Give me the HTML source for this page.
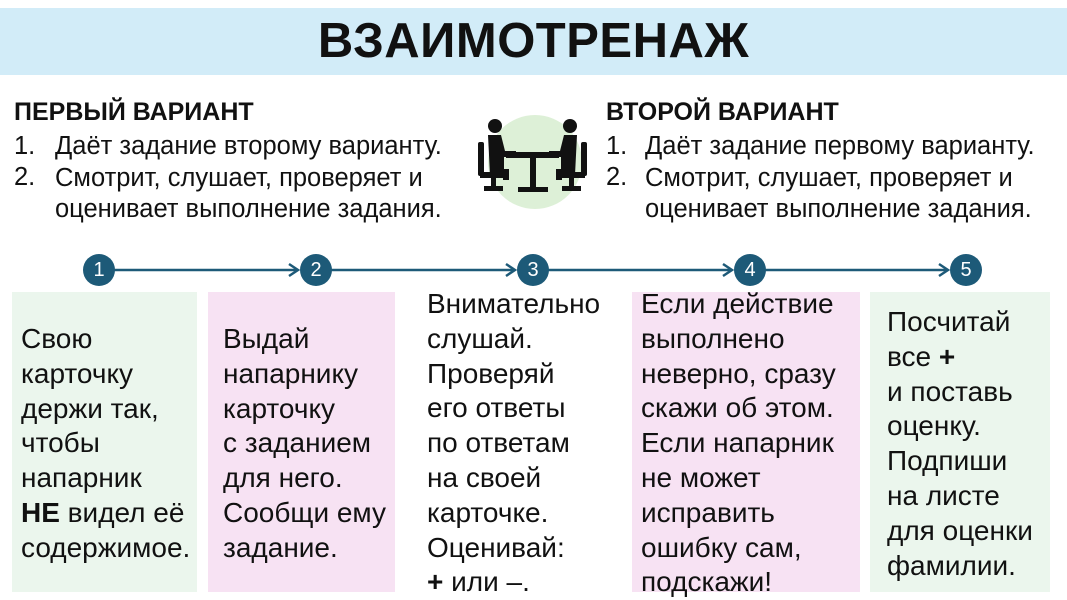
<!DOCTYPE html>
<html><head><meta charset="utf-8"><style>
body{margin:0;width:1067px;height:600px;background:#fff;position:relative;overflow:hidden;font-family:"Liberation Sans",Arial,sans-serif;color:#111}
.a{position:absolute}
.band{left:0;top:8px;width:1067px;height:67px;background:#d2ecf8}
.title{left:0;width:1067px;top:8px;height:67px;line-height:67px;text-align:center;font-weight:bold;font-size:49px;letter-spacing:0.5px}
.h{font-weight:bold;font-size:25px}
.li{font-size:25.5px;line-height:31.5px;white-space:nowrap}
.box{top:292px;height:300px}
.t{font-size:28px;line-height:34.8px;white-space:nowrap}
.c{width:32px;height:32px;border-radius:50%;background:#1d5a78;color:#fff;font-size:20px;line-height:32px;text-align:center;top:254px}
</style></head><body>
<div class="a band"></div>
<div class="a title">ВЗАИМОТРЕНАЖ</div>

<div class="a h" style="left:14px;top:98px">ПЕРВЫЙ ВАРИАНТ</div>
<div class="a li" style="left:14px;top:131px">1.</div>
<div class="a li" style="left:14px;top:162px">2.</div>
<div class="a li" style="left:55px;top:131px">Даёт задание второму варианту.<br>Смотрит, слушает, проверяет и<br>оценивает выполнение задания.</div>

<div class="a h" style="left:606px;top:98px">ВТОРОЙ ВАРИАНТ</div>
<div class="a li" style="left:606px;top:131px">1.</div>
<div class="a li" style="left:606px;top:162px">2.</div>
<div class="a li" style="left:645px;top:131px">Даёт задание первому варианту.<br>Смотрит, слушает, проверяет и<br>оценивает выполнение задания.</div>

<svg class="a" style="left:0;top:0" width="1067" height="600">
<circle cx="535" cy="162" r="47" fill="#ddf0d7"/>
<g fill="#111">
<circle cx="495" cy="126" r="7"/><circle cx="570" cy="126" r="7"/>
<path d="M488 135h13l4 16h11v6h-12v12h5v11h-6v-5h-13z"/>
<path d="M577 135h-13l-4 16h-11v6h12v12h-5v11h6v-5h13z"/>
<rect x="478" y="142" width="6" height="34" rx="2"/><rect x="581" y="142" width="6" height="34" rx="2"/>
<rect x="480" y="172" width="26" height="6"/><rect x="559" y="172" width="26" height="6"/>
<rect x="491" y="176" width="5" height="12"/><rect x="569" y="176" width="5" height="12"/>
<rect x="484" y="186" width="19" height="5"/><rect x="562" y="186" width="19" height="5"/>
<rect x="506" y="152" width="53" height="6"/>
<rect x="530" y="156" width="6" height="34"/>
<rect x="518" y="187" width="30" height="5"/>
</g>
<g stroke="#1d5a78" stroke-width="2.5" fill="none">
<line x1="114" y1="270" x2="298" y2="270"/>
<line x1="331" y1="270" x2="515" y2="270"/>
<line x1="548" y1="270" x2="732" y2="270"/>
<line x1="765" y1="270" x2="948" y2="270"/>
<path d="M289 264l9 6l-9 6M506 264l9 6l-9 6M723 264l9 6l-9 6M939 264l9 6l-9 6"/>
</g>
</svg>
<div class="a c" style="left:83px">1</div>
<div class="a c" style="left:300px">2</div>
<div class="a c" style="left:517px">3</div>
<div class="a c" style="left:734px">4</div>
<div class="a c" style="left:950px">5</div>

<div class="a box" style="left:12px;width:185px;background:#ebf6ed"></div>
<div class="a box" style="left:208px;width:187px;background:#f7e2f3"></div>
<div class="a box" style="left:632px;width:228px;background:#f7e2f3"></div>
<div class="a box" style="left:870px;width:180px;background:#ebf6ed"></div>

<div class="a t" style="left:21px;top:322px">Свою<br>карточку<br>держи так,<br>чтобы<br>напарник<br><b>НЕ</b> видел её<br>содержимое.</div>
<div class="a t" style="left:223px;top:322px">Выдай<br>напарнику<br>карточку<br>с заданием<br>для него.<br>Сообщи ему<br>задание.</div>
<div class="a t" style="left:427px;top:287px">Внимательно<br>слушай.<br>Проверяй<br>его ответы<br>по ответам<br>на своей<br>карточке.<br>Оценивай:<br><b>+</b> или –.</div>
<div class="a t" style="left:641px;top:287px">Если действие<br>выполнено<br>неверно, сразу<br>скажи об этом.<br>Если напарник<br>не может<br>исправить<br>ошибку сам,<br>подскажи!</div>
<div class="a t" style="left:887px;top:305px">Посчитай<br>все <b>+</b><br>и поставь<br>оценку.<br>Подпиши<br>на листе<br>для оценки<br>фамилии.</div>
</body></html>
